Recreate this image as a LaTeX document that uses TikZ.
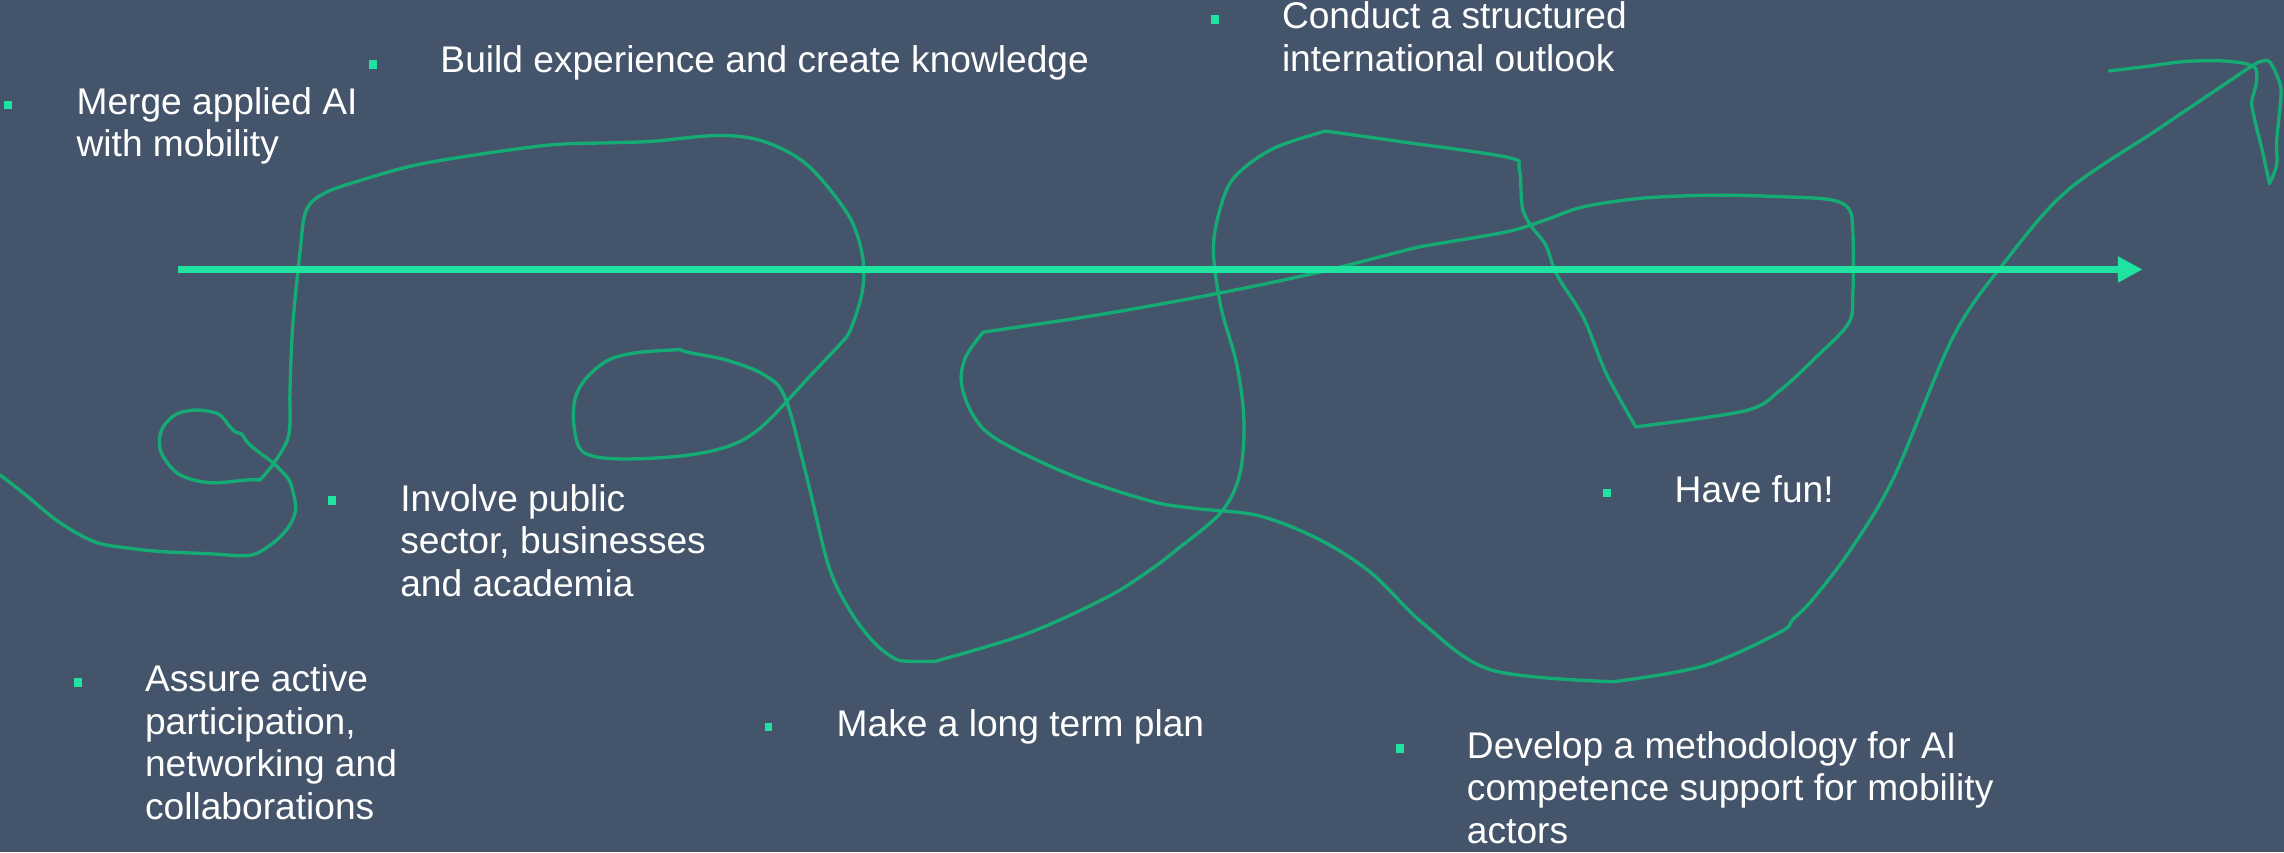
\documentclass[tikz,border=0pt]{standalone}
\usepackage{fontspec}
\setmainfont{Liberation Sans}
\usetikzlibrary{arrows.meta}
\definecolor{bgc}{HTML}{44546A}
\definecolor{brightg}{HTML}{20E3A2}
\definecolor{curveg}{HTML}{15AB75}
\newcommand{\itm}[1]{\parbox[t]{10cm}{\raggedright #1}}
\tikzset{
  txt/.style={anchor=base west, inner sep=0pt, text=white, font=\fontsize{12.75}{14.6}\selectfont},
  bul/.style={rectangle, fill=brightg, minimum width=2.7pt, minimum height=3pt, inner sep=0pt},
  mainarrow/.style={draw=brightg, line width=2.4pt, -{Triangle[length=8.5pt,width=8.4pt]}},
  scribble/.style={draw=curveg, line width=1.15pt, line join=round, line cap=round}
}
\begin{document}
\begin{tikzpicture}[x=0.5pt,y=-0.5pt]
\useasboundingbox (0,0) rectangle (1568,585);
\fill[bgc] (0,0) rectangle (1568,585);

% scribbled path
\draw[scribble]
 plot[smooth,tension=0.55] coordinates {(0,326) (18,340) (40,358) (65,372) (89,376.4) (112,378.7) (146.5,380.3) (164.8,381.5) (176.2,379.9) (190,370.7) (199,360.4) (203,349) (200.2,334) (196.8,327.3) (187.7,318) (171.6,305.5) (165.9,298) (162,296.8) (157.9,293) (149.9,284.2) (135,281.5) (121.3,284.2) (112,293) (109.4,303.2) (112,313.5) (123.6,326) (144.2,331.4) (169.3,329.5) (178.5,329.5)}
 -- plot[smooth,tension=0.55] coordinates {(178.5,329.5) (187.7,318.5) (196.8,303.2) (199.1,290.6) (199.1,267.7) (201,223) (206,173) (210,145) (222,133) (247,124) (292,112) (373,100) (420,98) (448,97) (493,93) (524,97) (554,113) (582,147) (592,175) (592,200) (584,226) (577,236) (559,255) (524,292) (501,306) (468,313) (423,315) (400,310) (394,292) (395,273) (403,259) (418,247) (438,242) (467,240)}
 -- plot[smooth,tension=0.55] coordinates {(467,240) (473,242) (498,247) (524,257) (539,273) (554,328) (569,389) (584,420) (600,441) (614,452) (624,454) (642,454)}
 -- plot[smooth,tension=0.55] coordinates {(642,454) (705,435) (760,410) (790,391) (807,378) (838,352) (851,326) (854,289) (849,250) (838,210) (833,171) (838,142) (848,121) (874,102) (910,90)}
 -- plot[smooth,tension=0.55] coordinates {(910,90) (960,97) (1035,108) (1043,116) (1045,142) (1051,155) (1061,168) (1069,189) (1087,218) (1103,257) (1123,293)}
 -- plot[smooth,tension=0.55] coordinates {(1123,293) (1198,282) (1222,268) (1248,244) (1269,222) (1272,202) (1272,158) (1269,143) (1256,137) (1222,135) (1178,134) (1128,136) (1087,142) (1061,151) (1035,159) (983,168) (968,171) (905,187) (833,202) (755,216) (675,228)}
 -- plot[smooth,tension=0.55] coordinates {(675,228) (663,245) (660,263) (668,285) (685,302) (735,326) (790,344) (820,349) (864,354) (905,370) (941,393) (977,428) (1024,460) (1108,468)}
 -- plot[smooth,tension=0.55] coordinates {(1108,468) (1170,457) (1222,434) (1231,425) (1244,412) (1270,378) (1300,328) (1341,231) (1377,179) (1419,131) (1481,89) (1527,58) (1547,44.6) (1554,41.7) (1558,42.3) (1563,51.5) (1566,64) (1563,96) (1563,113) (1558,126)}
 -- plot[smooth,tension=0.55] coordinates {(1558,126) (1553,103) (1549,87) (1546,73) (1546,68.6) (1549,57) (1549,48) (1546,45.3) (1538,43) (1522,41.7) (1499,42.3) (1472,45.8) (1448,48.7)};

% main arrow
\coordinate (astart) at (122,185);
\coordinate (aend) at (1471,185);
\draw[mainarrow] (astart) -- (aend);

% bullets and texts
\node[bul] (b1) at (5.5,72) {};
\node[txt] (t1) at (52.2,78.3) {\itm{Merge applied AI\\with mobility}};

\node[bul] (b2) at (256,44.3) {};
\node[txt] (t2) at (302,49.9) {\itm{Build experience and create knowledge}};

\node[bul] (b3) at (834,13.6) {};
\node[txt] (t3) at (879.7,19.7) {\itm{Conduct a structured\\international outlook}};

\node[bul] (b4) at (227.8,343.8) {};
\node[txt] (t4) at (274.4,350.8) {\itm{Involve public\\sector, businesses\\and academia}};

\node[bul] (b5) at (53.3,468.3) {};
\node[txt] (t5) at (99.2,474.9) {\itm{Assure active\\participation,\\networking and\\collaborations}};

\node[bul] (b6) at (527.6,499) {};
\node[txt] (t6) at (574,505.7) {\itm{Make a long term plan}};

\node[bul] (b7) at (961,514) {};
\node[txt] (t7) at (1006.7,520.6) {\itm{Develop a methodology for AI\\competence support for mobility\\actors}};

\node[bul] (b8) at (1103.4,338.5) {};
\node[txt] (t8) at (1149.3,344.9) {\itm{Have fun!}};
\end{tikzpicture}
\end{document}
